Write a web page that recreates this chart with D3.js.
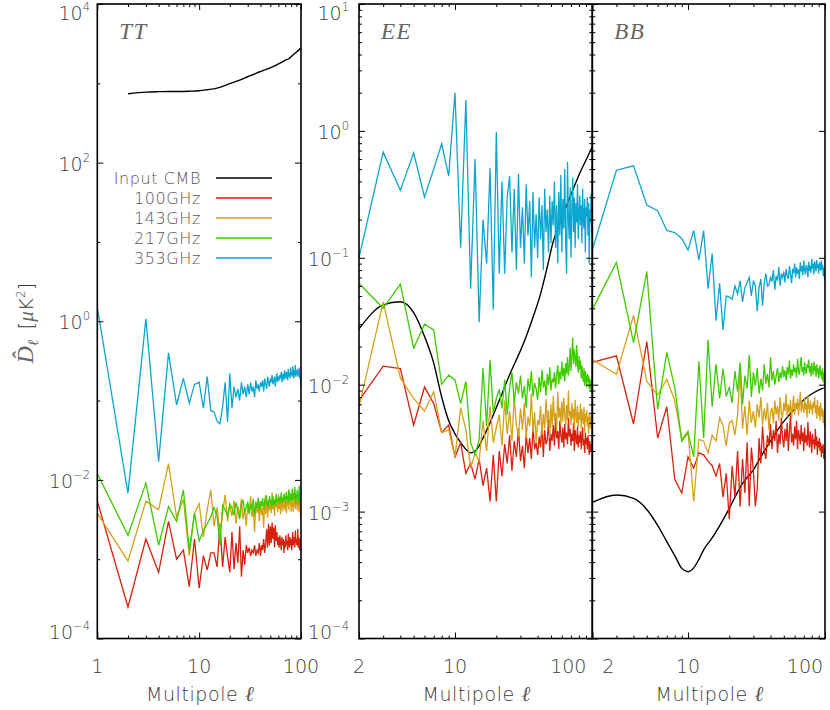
<!DOCTYPE html>
<html><head><meta charset="utf-8">
<script src="https://cdn.jsdelivr.net/npm/d3@7"></script>
<style>body{margin:0;background:#fff}svg{display:block}</style>
</head><body>
<svg id="c" width="830" height="710"></svg>
<script>
// ---------------- DATA ----------------
const seriesNames = ["Input CMB","100GHz","143GHz","217GHz","353GHz"];
const seriesColors = ["#000000","#d8200e","#d6a11a","#3dcc00","#0aa6cf"];
const panelTitles = ["TT","EE","BB"];

const ttEll = d3.range(1, 101);
const polEll = d3.range(2, 101);

// TT
const ttCmbEll = [2,3,4,5,6,8,10,12,15,20,25,30,35,40,45,50,55,60,65,70,77,80,85,90,95,100];
const ttCmb = [740,775,785,790,790,795,805,830,870,990,1100,1210,1310,1410,1490,1570,1660,1760,1850,1950,2070,2170,2330,2470,2620,2800];
const ttRed = [
5.4e-3,2.5e-4,1.8e-3,6.8e-4,3.0e-3,1.0e-3,1.3e-3,4.5e-4,1.8e-3,4.3e-4,
1.1e-3,7.3e-4,1.2e-3,1.2e-3,8.0e-4,2.8e-3,8.0e-4,1.9e-3,1.1e-3,6.8e-4,
2.2e-3,7.5e-4,1.6e-3,9.0e-4,2.6e-3,6.0e-4,1.3e-3,8.5e-4,1.5e-3,1.2e-3,
1.4e-3,1.1e-3,1.3e-3,1.2e-3,1.5e-3,1.1e-3,1.3e-3,1.2e-3,1.6e-3,1.1e-3,
1.5e-3,1.3e-3,1.8e-3,1.2e-3,1.6e-3,2.4e-3,1.4e-3,2.8e-3,1.5e-3,2.6e-3,
1.6e-3,2.9e-3,1.8e-3,2.5e-3,1.4e-3,2.7e-3,1.7e-3,2.2e-3,1.5e-3,1.9e-3,
1.4e-3,2.0e-3,1.6e-3,1.3e-3,1.9e-3,1.5e-3,1.8e-3,1.2e-3,1.7e-3,1.4e-3,
2.0e-3,1.5e-3,1.7e-3,1.3e-3,2.1e-3,1.6e-3,1.4e-3,1.9e-3,1.5e-3,1.8e-3,
1.3e-3,1.7e-3,2.2e-3,1.5e-3,1.6e-3,1.9e-3,1.4e-3,2.3e-3,1.6e-3,1.8e-3,
1.5e-3,1.7e-3,2.4e-3,1.4e-3,1.9e-3,1.6e-3,1.3e-3,1.8e-3,1.5e-3,1.7e-3];
const ttOrange = [
3.8e-3,9.5e-4,5.4e-3,4.2e-3,1.6e-2,3.4e-3,5.7e-3,1.1e-3,3.8e-3,5.0e-3,
1.9e-3,4.2e-3,7.5e-3,2.6e-3,4.5e-3,2.0e-3,3.8e-3,6.5e-3,3.0e-3,4.8e-3,
3.5e-3,5.5e-3,2.8e-3,4.6e-3,3.6e-3,5.8e-3,3.2e-3,4.4e-3,2.6e-3,5.0e-3,
3.9e-3,6.2e-3,3.4e-3,4.5e-3,2.2e-3,5.4e-3,3.8e-3,4.8e-3,3.0e-3,5.2e-3,
3.6e-3,4.4e-3,2.5e-3,5.6e-3,3.7e-3,6.4e-3,3.3e-3,4.9e-3,4.1e-3,5.8e-3,
3.8e-3,7.0e-3,4.2e-3,5.3e-3,3.5e-3,6.0e-3,4.5e-3,5.1e-3,3.9e-3,6.6e-3,
4.3e-3,5.5e-3,3.7e-3,6.2e-3,4.8e-3,4.0e-3,5.9e-3,4.4e-3,6.8e-3,4.1e-3,
5.2e-3,3.8e-3,6.1e-3,4.6e-3,5.4e-3,4.2e-3,7.2e-3,4.9e-3,5.6e-3,3.9e-3,
6.3e-3,4.5e-3,5.1e-3,4.0e-3,6.5e-3,4.7e-3,5.5e-3,4.3e-3,6.0e-3,4.8e-3,
5.3e-3,4.1e-3,6.7e-3,4.6e-3,5.0e-3,3.9e-3,5.8e-3,4.4e-3,3.6e-3,3.2e-3];
const ttGreen = [
1.2e-2,2.0e-3,9.1e-3,1.5e-3,4.6e-3,3.0e-3,7.5e-3,1.3e-3,3.8e-3,1.7e-3,
2.3e-3,2.8e-3,3.4e-3,4.5e-3,3.5e-3,1.5e-3,4.8e-3,4.2e-3,3.5e-3,5.0e-3,
4.4e-3,3.6e-3,5.2e-3,4.0e-3,3.2e-3,4.8e-3,5.6e-3,3.9e-3,4.5e-3,5.3e-3,
3.7e-3,4.9e-3,4.2e-3,5.8e-3,3.5e-3,5.1e-3,4.4e-3,6.0e-3,4.1e-3,5.4e-3,
4.6e-3,5.9e-3,4.3e-3,5.2e-3,6.4e-3,4.8e-3,5.5e-3,4.5e-3,6.2e-3,5.0e-3,
5.5e-3,4.5e-3,6.3e-3,4.9e-3,5.6e-3,4.7e-3,6.7e-3,5.1e-3,5.8e-3,5.3e-3,
6.1e-3,5.0e-3,5.8e-3,6.9e-3,5.2e-3,6.0e-3,5.4e-3,6.6e-3,5.6e-3,6.2e-3,
5.1e-3,7.1e-3,5.7e-3,6.3e-3,5.2e-3,7.6e-3,5.9e-3,5.5e-3,6.7e-3,6.0e-3,
5.4e-3,7.8e-3,5.9e-3,5.5e-3,6.9e-3,5.7e-3,8.2e-3,6.1e-3,5.0e-3,6.7e-3,
6.0e-3,7.5e-3,5.5e-3,6.9e-3,5.1e-3,8.4e-3,5.8e-3,6.3e-3,4.8e-3,5.6e-3];
const ttCyan = [
1.5,6.8e-3,1.07,1.7e-2,0.40,0.088,0.19,0.093,0.16,0.17,
0.08,0.20,0.075,0.072,0.055,0.051,0.084,0.17,0.054,0.22,
0.08,0.15,0.11,0.14,0.10,0.17,0.12,0.15,0.11,0.16,
0.12,0.17,0.13,0.15,0.11,0.18,0.14,0.16,0.13,0.17,
0.15,0.18,0.13,0.19,0.16,0.14,0.20,0.17,0.15,0.19,
0.17,0.21,0.16,0.18,0.20,0.15,0.19,0.22,0.17,0.20,
0.18,0.21,0.19,0.23,0.17,0.20,0.22,0.18,0.24,0.20,
0.19,0.23,0.21,0.18,0.25,0.20,0.22,0.19,0.26,0.21,
0.23,0.20,0.27,0.22,0.19,0.24,0.21,0.28,0.20,0.23,
0.22,0.25,0.20,0.24,0.21,0.26,0.19,0.22,0.18,0.15];

// EE
const eeCmbEll = [2,3,4,5,6,7,8,9,10,11,12,13,14,15,16,18,20,22,25,28,32,37,42,47,52,56,60,65,72,80,90,100];
const eeCmb = [0.0275,0.0425,0.045,0.037,0.024,0.0148,0.008,0.0052,0.0041,0.0035,0.0031,0.0029,0.0030,0.0033,0.0038,0.0050,0.0066,0.0085,0.012,0.0157,0.022,0.034,0.052,0.085,0.135,0.17,0.21,0.26,0.34,0.45,0.59,0.75];
const eeRed = [
0.0075,0.014,0.0134,0.0048,0.0096,0.0071,0.0042,0.0048,0.0027,
0.0035,0.0020,0.0024,0.0018,0.0026,0.0016,0.0022,0.0012,0.0028,0.0012,
0.0030,0.0019,0.0034,0.0024,0.0040,0.0021,0.0036,0.0027,0.0045,0.0025,
0.0033,0.0022,0.0041,0.0029,0.0038,0.0026,0.0047,0.0031,0.0035,0.0028,
0.0039,0.0032,0.0050,0.0027,0.0044,0.0034,0.0037,0.0053,0.0030,0.0041,
0.0036,0.0048,0.0033,0.0056,0.0038,0.0043,0.0031,0.0052,0.0040,0.0035,
0.0046,0.0032,0.0049,0.0037,0.0042,0.0034,0.0055,0.0039,0.0045,0.0033,
0.0041,0.0036,0.0050,0.0030,0.0044,0.0038,0.0034,0.0047,0.0032,0.0040,
0.0035,0.0043,0.0031,0.0039,0.0046,0.0033,0.0037,0.0029,0.0042,0.0034,
0.0038,0.0031,0.0040,0.0035,0.0028,0.0036,0.0032,0.0030,0.0034,0.0029];
const eeOrange = [
0.0067,0.045,0.0113,0.0078,0.0062,0.0088,0.0042,0.0044,0.0027,
0.0066,0.0044,0.0022,0.0029,0.0025,0.0052,0.0030,0.0068,0.0035,0.0046,
0.0058,0.0033,0.0075,0.0041,0.0062,0.0036,0.0080,0.0048,0.0039,0.0065,
0.0044,0.0072,0.0038,0.0056,0.0047,0.0085,0.0042,0.0061,0.0035,0.0053,
0.0048,0.0068,0.0040,0.0059,0.0045,0.0077,0.0050,0.0063,0.0038,0.0070,
0.0046,0.0082,0.0052,0.0060,0.0043,0.0088,0.0055,0.0066,0.0049,0.0074,
0.0051,0.0079,0.0058,0.0047,0.0069,0.0053,0.0090,0.0056,0.0062,0.0048,
0.0072,0.0054,0.0065,0.0044,0.0076,0.0058,0.0050,0.0068,0.0046,0.0061,
0.0053,0.0071,0.0045,0.0064,0.0055,0.0049,0.0067,0.0042,0.0059,0.0051,
0.0063,0.0047,0.0056,0.0041,0.0060,0.0052,0.0045,0.0058,0.0048,0.0055];
const eeGreen = [
0.063,0.040,0.062,0.0194,0.030,0.027,0.0101,0.0119,0.0109,
0.0071,0.0106,0.0035,0.0028,0.0037,0.0135,0.0047,0.0157,0.006,0.0078,
0.0092,0.0065,0.011,0.0058,0.0095,0.0125,0.0072,0.0105,0.0085,0.0118,
0.0078,0.0098,0.0066,0.0112,0.0089,0.0128,0.0081,0.0103,0.0093,0.0076,
0.0115,0.0087,0.0131,0.0095,0.0108,0.0082,0.0121,0.0099,0.0137,0.0090,
0.0112,0.0104,0.0125,0.0094,0.0118,0.0143,0.0101,0.0127,0.0110,0.0152,
0.0116,0.0135,0.0106,0.0148,0.0122,0.0165,0.0118,0.0140,0.0195,0.0128,
0.0175,0.0235,0.0145,0.0190,0.0160,0.0138,0.0205,0.0150,0.0125,0.0168,
0.0132,0.0155,0.0112,0.0142,0.0120,0.0105,0.0135,0.0098,0.0128,0.0110,
0.0095,0.0122,0.0104,0.0118,0.0092,0.0112,0.0100,0.0088,0.0108,0.0096];
const eeCyan = [
0.10,0.68,0.34,0.67,0.30,0.50,0.79,0.44,2.0,
0.12,1.75,0.057,0.60,0.031,0.20,0.09,0.51,0.039,0.98,
0.075,0.40,0.075,0.30,0.44,0.11,0.35,0.08,0.46,0.12,
0.25,0.09,0.38,0.15,0.28,0.07,0.33,0.12,0.22,0.10,
0.30,0.14,0.26,0.08,0.35,0.16,0.24,0.11,0.31,0.13,
0.28,0.18,0.40,0.12,0.26,0.09,0.33,0.15,0.45,0.11,
0.29,0.17,0.50,0.13,0.075,0.57,0.20,0.14,0.36,0.10,
0.24,0.43,0.16,0.30,0.12,0.27,0.19,0.38,0.14,0.22,
0.31,0.18,0.26,0.13,0.35,0.20,0.17,0.29,0.11,0.25,
0.21,0.30,0.15,0.27,0.09,0.24,0.19,0.32,0.16,0.22];

// BB
const bbCmbEll = [2,3,4,5,6,7,8,9,10,11,12,13,15,18,20,25,30,34,40,47,55,62,70,82,95,100];
const bbCmb = [0.00118,0.00135,0.00127,0.00104,0.00078,0.00058,0.00045,0.000357,0.000336,0.00036,0.00042,0.0005,0.00062,0.00086,0.00106,0.00167,0.00213,0.0027,0.0036,0.0047,0.0058,0.0067,0.0076,0.0086,0.0093,0.0095];
const bbRed = [
0.015,0.0169,0.0049,0.0219,0.0038,0.0067,0.0018,0.0014,0.0027,
0.0022,0.0029,0.0028,0.0025,0.0023,0.0019,0.0024,0.0013,0.0020,0.00087,
0.0023,0.0013,0.0030,0.0011,0.0026,0.0014,0.0035,0.0011,0.0032,0.0021,
0.0011,0.0015,0.0038,0.0024,0.0047,0.0030,0.0026,0.0040,0.0033,0.0049,
0.0031,0.0044,0.0036,0.0052,0.0029,0.0041,0.0034,0.0055,0.0038,0.0032,
0.0045,0.0036,0.0050,0.0030,0.0043,0.0058,0.0035,0.0041,0.0033,0.0047,
0.0037,0.0052,0.0031,0.0044,0.0039,0.0034,0.0048,0.0036,0.0042,0.0030,
0.0046,0.0035,0.0040,0.0033,0.0051,0.0038,0.0032,0.0043,0.0036,0.0029,
0.0041,0.0034,0.0037,0.0031,0.0045,0.0033,0.0039,0.0028,0.0036,0.0032,
0.0038,0.0030,0.0035,0.0027,0.0033,0.0029,0.0034,0.0026,0.0031,0.0028];
const bbOrange = [
0.0158,0.0121,0.0352,0.0106,0.0083,0.011,0.0075,0.0037,0.0043,
0.0012,0.0037,0.0036,0.0029,0.0040,0.0036,0.0055,0.0048,0.0033,0.0050,
0.0052,0.0040,0.0058,0.0130,0.0045,0.0068,0.0040,0.0075,0.0050,0.0062,
0.0046,0.0070,0.0055,0.0080,0.0048,0.0065,0.0052,0.0072,0.0044,0.0060,
0.0066,0.0050,0.0075,0.0058,0.0068,0.0052,0.0080,0.0060,0.0055,0.0072,
0.0062,0.0085,0.0056,0.0070,0.0060,0.0076,0.0054,0.0068,0.0082,0.0058,
0.0072,0.0064,0.0078,0.0057,0.0069,0.0088,0.0061,0.0074,0.0066,0.0060,
0.0078,0.0063,0.0071,0.0055,0.0082,0.0067,0.0059,0.0075,0.0064,0.0070,
0.0058,0.0073,0.0066,0.0080,0.0060,0.0069,0.0054,0.0076,0.0062,0.0057,
0.0068,0.0052,0.0072,0.0060,0.0056,0.0065,0.0050,0.0062,0.0048,0.0045];
const bbGreen = [
0.039,0.092,0.0215,0.078,0.0064,0.018,0.0095,0.0036,0.0042,
0.0027,0.0153,0.0038,0.0225,0.0067,0.0145,0.0078,0.0134,0.0081,0.0095,
0.0072,0.0128,0.0088,0.0150,0.0070,0.0118,0.0093,0.0172,0.0080,0.0125,
0.0098,0.0135,0.0085,0.0112,0.0090,0.0145,0.0102,0.0122,0.0095,0.0165,
0.0108,0.0128,0.0100,0.0118,0.0135,0.0105,0.0125,0.0112,0.0140,0.0115,
0.0130,0.0108,0.0138,0.0120,0.0155,0.0112,0.0132,0.0118,0.0145,0.0125,
0.0136,0.0114,0.0160,0.0128,0.0120,0.0142,0.0165,0.0126,0.0138,0.0118,
0.0150,0.0130,0.0122,0.0145,0.0135,0.0158,0.0125,0.0140,0.0116,0.0148,
0.0132,0.0120,0.0152,0.0128,0.0140,0.0115,0.0145,0.0122,0.0135,0.0112,
0.0128,0.0142,0.0118,0.0130,0.0110,0.0135,0.0105,0.0125,0.0098,0.0115];
const bbCyan = [
0.115,0.49,0.53,0.26,0.235,0.164,0.158,0.142,0.115,
0.164,0.096,0.164,0.057,0.108,0.032,0.063,0.027,0.05,0.049,
0.047,0.060,0.052,0.066,0.045,0.058,0.064,0.070,0.050,0.066,
0.060,0.038,0.058,0.068,0.042,0.063,0.075,0.060,0.061,0.070,
0.065,0.080,0.056,0.072,0.066,0.085,0.060,0.075,0.070,0.078,
0.064,0.082,0.072,0.068,0.086,0.074,0.063,0.080,0.077,0.090,
0.070,0.084,0.075,0.081,0.068,0.092,0.078,0.086,0.073,0.095,
0.080,0.074,0.088,0.083,0.070,0.093,0.079,0.087,0.076,0.098,
0.082,0.090,0.074,0.094,0.085,0.078,0.096,0.083,0.089,0.075,
0.092,0.086,0.079,0.095,0.081,0.088,0.072,0.084,0.070,0.066];

// ticks
const xMinorTT = [2,3,4,5,6,7,8,9,20,30,40,50,60,70,80,90];
const xMinorPol = [3,4,5,6,7,8,9,20,30,40,50,60,70,80,90];
const ttYExp = [-4,-3,-2,-1,0,1,2,3,4];
const ttYLabelExp = [-4,-2,0,2,4];
const polYExp = [-4,-3,-2,-1,0,1];
const polYMinor = [-4,-3,-2,-1,0].flatMap(e => [2,3,4,5,6,7,8,9].map(m => m*Math.pow(10,e)));

// ---------------- DRAW ----------------
const svg = d3.select("#c");
const SANS = "'DejaVu Sans', sans-serif";
const SERIF = "'Liberation Serif', serif";
const TXT = "#3a3a3a";
const Y0 = 4, Y1 = 638.5;

const panels = [
  {title: panelTitles[0], x0: 97.3, x1: 301, xDom: [1,100], yDom: [1e-4,1e4],
   xMajor: [1,10,100], xMinor: xMinorTT, xLab: [[1,"1",0],[10,"10",0],[100,"100",0]],
   yMajor: ttYExp.filter(e => e%2===0).map(e=>Math.pow(10,e)),
   yMinor: ttYExp.filter(e => e%2!==0).map(e=>Math.pow(10,e)),
   yLabExp: ttYLabelExp, yLabX: 90, rightMinor: true,
   ell: ttEll, cmbEll: ttCmbEll, cmb: ttCmb, series: [ttRed, ttOrange, ttGreen, ttCyan], legend: true},
  {title: panelTitles[1], x0: 359, x1: 592.3, xDom: [2,100], yDom: [1e-4,10],
   xMajor: [2,10,100], xMinor: xMinorPol, xLab: [[2,"2",0],[10,"10",0],[100,"100",-24]],
   yMajor: polYExp.map(e=>Math.pow(10,e)), yMinor: polYMinor,
   yLabExp: polYExp, yLabX: 349, rightMinor: true,
   ell: polEll, cmbEll: eeCmbEll, cmb: eeCmb, series: [eeRed, eeOrange, eeGreen, eeCyan]},
  {title: panelTitles[2], x0: 592.3, x1: 825, xDom: [2,100], yDom: [1e-4,10],
   xMajor: [2,10,100], xMinor: xMinorPol, xLab: [[2,"2",16],[10,"10",0],[100,"100",-20]],
   yMajor: polYExp.map(e=>Math.pow(10,e)), yMinor: polYMinor,
   yLabExp: [], yLabX: 0, rightMinor: false,
   ell: polEll, cmbEll: bbCmbEll, cmb: bbCmb, series: [bbRed, bbOrange, bbGreen, bbCyan]}
];

function styleAxis(g){
  g.select(".domain").remove();
  g.selectAll(".tick line").attr("stroke","#000").attr("stroke-width",1);
  g.selectAll(".tick text").remove();
}

panels.forEach((p, pi) => {
  const x = d3.scaleLog().domain(p.xDom).range([p.x0, p.x1]);
  const y = d3.scaleLog().domain(p.yDom).range([Y1, Y0]);
  const g = svg.append("g");

  const clipId = "clip" + pi;
  svg.append("clipPath").attr("id", clipId).append("rect")
    .attr("x", p.x0).attr("y", Y0).attr("width", p.x1 - p.x0).attr("height", Y1 - Y0);
  const plot = g.append("g").attr("clip-path", `url(#${clipId})`);

  const line = d3.line().x(d => x(d[0])).y(d => y(d[1]));
  const smooth = d3.line().x(d => x(d[0])).y(d => y(d[1])).curve(d3.curveMonotoneX);
  plot.append("path").datum(p.cmbEll.map((l,i)=>[l, p.cmb[i]]))
    .attr("d", smooth).attr("fill","none").attr("stroke", seriesColors[0]).attr("stroke-width",1.4);
  p.series.forEach((s, si) => {
    const pts = p.ell.slice(0, s.length).map((l,i)=>[l, s[i]]);
    plot.append("path").datum(pts).attr("d", line).attr("fill","none")
      .attr("stroke", seriesColors[si+1]).attr("stroke-width",1.3).attr("stroke-linejoin","miter");
  });

  const ax = [
    [d3.axisBottom(x).tickValues(p.xMajor).tickSize(-6), `translate(0,${Y1})`],
    [d3.axisBottom(x).tickValues(p.xMinor).tickSize(-3), `translate(0,${Y1})`],
    [d3.axisTop(x).tickValues(p.xMajor).tickSize(-6), `translate(0,${Y0})`],
    [d3.axisTop(x).tickValues(p.xMinor).tickSize(-3), `translate(0,${Y0})`],
    [d3.axisLeft(y).tickValues(p.yMajor).tickSize(-6), `translate(${p.x0},0)`],
    [d3.axisLeft(y).tickValues(p.yMinor).tickSize(-3), `translate(${p.x0},0)`],
    [d3.axisRight(y).tickValues(p.yMajor).tickSize(-6), `translate(${p.x1},0)`]
  ];
  if (p.rightMinor) ax.push([d3.axisRight(y).tickValues(p.yMinor).tickSize(-3), `translate(${p.x1},0)`]);
  ax.forEach(([a, tr]) => g.append("g").attr("transform", tr).call(a).call(styleAxis));

  g.append("rect").attr("x", p.x0).attr("y", Y0).attr("width", p.x1 - p.x0).attr("height", Y1 - Y0)
    .attr("fill","none").attr("stroke","#000").attr("stroke-width",1.6);

  p.xLab.forEach(([v, t, dx]) => {
    g.append("text").attr("x", x(v) + dx).attr("y", 673).attr("text-anchor","middle")
      .attr("font-family", SANS).attr("font-size", 19).attr("font-weight", 200)
      .attr("fill", TXT).text(t);
  });
  const xt = g.append("text").attr("x", (p.x0 + p.x1)/2 + 1).attr("y", 701).attr("text-anchor","middle")
    .attr("font-family", SANS).attr("font-size", 19).attr("font-weight", 200)
    .attr("letter-spacing", 0.6).attr("fill", TXT);
  xt.append("tspan").text("Multipole ");
  xt.append("tspan").attr("font-family", SERIF).attr("font-style","italic").attr("font-size",21).attr("fill","#555").text("\u2113");

  p.yLabExp.forEach(e => {
    let yy = y(Math.pow(10, e)) + 8;
    yy = Math.max(Y0 + 16, Math.min(Y1 + 0, yy));
    const t = g.append("text").attr("x", p.yLabX).attr("y", yy).attr("text-anchor","end")
      .attr("font-family", SANS).attr("font-size", 19).attr("font-weight", 200).attr("fill", TXT);
    t.append("tspan").text("10");
    t.append("tspan").attr("dy", -9).attr("font-size", 11.5)
      .text(e < 0 ? "\u2212" + (-e) : String(e));
  });

  g.append("text").attr("x", p.x0 + 22).attr("y", 39)
    .attr("font-family", SERIF).attr("font-style","italic").attr("font-weight", 400).attr("font-size", 23)
    .attr("letter-spacing", 1.5).attr("fill", "#666").text(p.title);

  if (p.legend) {
    seriesNames.forEach((n, i) => {
      const yy = 178 + i * 20;
      g.append("text").attr("x", 201).attr("y", yy + 5.5).attr("text-anchor","end")
        .attr("font-family", SANS).attr("font-size", 16).attr("font-weight", 200)
        .attr("letter-spacing", 0.6).attr("fill", "#555").text(n);
      g.append("line").attr("x1", 216).attr("x2", 272).attr("y1", yy).attr("y2", yy)
        .attr("stroke", seriesColors[i]).attr("stroke-width", 1.6);
    });
  }
});

const yt = svg.append("text").attr("transform","translate(33,323) rotate(-90)")
  .attr("text-anchor","middle").attr("font-family", SANS).attr("font-size", 20)
  .attr("font-weight", 200).attr("fill", TXT);
yt.append("tspan").attr("font-family", SERIF).attr("font-style","italic").attr("font-weight",400).attr("font-size",24).attr("fill","#666").text("D\u0302");
yt.append("tspan").attr("font-family", SERIF).attr("font-style","italic").attr("font-weight",400).attr("font-size",15).attr("fill","#666").attr("dy",5).text("\u2113");
yt.append("tspan").attr("dy",-5).text("\u2009 [");
yt.append("tspan").attr("font-family", SERIF).attr("font-style","italic").attr("font-weight",400).attr("font-size",21).attr("fill","#666").text("\u03bc");
yt.append("tspan").text("K");
yt.append("tspan").attr("dy",-8).attr("font-size",12).text("2");
yt.append("tspan").attr("dy",8).text("]");
</script>
</body></html>
